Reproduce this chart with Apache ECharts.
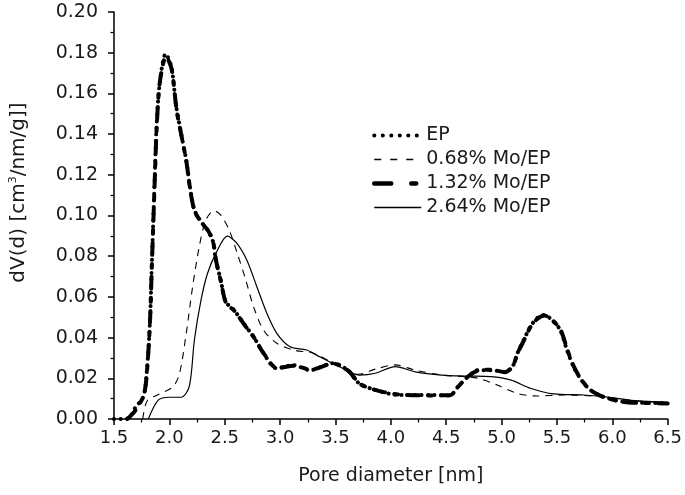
<!DOCTYPE html>
<html><head><meta charset="utf-8">
<script src="https://cdn.jsdelivr.net/npm/echarts@6/dist/echarts.min.js"></script>
<style>html,body{margin:0;padding:0;background:#fff}#c{width:685px;height:495px}</style>
</head><body><div id="c"></div>
<script>
var seriesNames = ['EP', '0.68% Mo/EP', '1.32% Mo/EP', '2.64% Mo/EP'];
var xTicks = [1.5, 2.0, 2.5, 3.0, 3.5, 4.0, 4.5, 5.0, 5.5, 6.0, 6.5];
var yTicks = [0.00, 0.02, 0.04, 0.06, 0.08, 0.10, 0.12, 0.14, 0.16, 0.18, 0.20];

var ep = [[1.5,0],[1.6,0.000],[1.646,0.001],[1.69,0.0054],[1.765,0.011],[1.795,0.0225],[1.824,0.047],[1.839,0.0716],[1.854,0.0963],[1.869,0.1207],[1.884,0.1436],[1.913,0.165],[1.967,0.1794],[2.018,0.173],[2.062,0.1535],[2.107,0.140],[2.152,0.1273],[2.19,0.1125],[2.226,0.1027],[2.286,0.097],[2.345,0.0929],[2.39,0.088],[2.42,0.078],[2.464,0.0683],[2.509,0.0576],[2.583,0.0536],[2.67,0.047],[2.76,0.0404],[2.85,0.0323],[2.97,0.0249],[3.12,0.0265],[3.27,0.024],[3.476,0.0274],[3.61,0.024],[3.714,0.0175],[3.86,0.0143],[4.07,0.0118],[4.37,0.0118],[4.53,0.0115],[4.607,0.0159],[4.696,0.0208],[4.786,0.024],[4.905,0.024],[5.024,0.0232],[5.098,0.0257],[5.143,0.0323],[5.2,0.0388],[5.26,0.0454],[5.32,0.0495],[5.38,0.0511],[5.455,0.0487],[5.53,0.0437],[5.59,0.034],[5.65,0.0257],[5.72,0.0192],[5.80,0.0143],[5.917,0.011],[6.095,0.0085],[6.27,0.008],[6.5,0.0077]];

var mo068 = [[1.76,0.0],[1.80,0.009],[1.9,0.012],[2.033,0.0159],[2.092,0.0225],[2.152,0.042],[2.21,0.065],[2.27,0.0847],[2.33,0.0978],[2.404,0.1024],[2.464,0.1002],[2.54,0.0929],[2.613,0.0814],[2.69,0.0683],[2.76,0.0552],[2.85,0.0437],[2.97,0.0372],[3.12,0.0339],[3.30,0.0323],[3.48,0.0274],[3.61,0.0233],[3.714,0.022],[3.86,0.0245],[4.04,0.0266],[4.22,0.024],[4.46,0.0216],[4.67,0.0208],[4.79,0.020],[4.96,0.0167],[5.14,0.0126],[5.32,0.0113],[5.56,0.0118],[5.9,0.011],[6.2,0.009],[6.5,0.008]];

var mo132 = [[1.62,0.000],[1.69,0.004],[1.77,0.012],[1.80,0.025],[1.826,0.049],[1.841,0.074],[1.856,0.098],[1.871,0.122],[1.887,0.145],[1.915,0.166],[1.97,0.178],[2.02,0.172],[2.065,0.152],[2.11,0.139],[2.155,0.126],[2.193,0.111],[2.23,0.102],[2.29,0.0965],[2.35,0.0925],[2.395,0.087],[2.425,0.077],[2.468,0.067],[2.512,0.057],[2.59,0.053],[2.675,0.0465],[2.765,0.040],[2.855,0.032],[2.975,0.025],[3.125,0.0262],[3.275,0.0243],[3.48,0.0272],[3.615,0.0238],[3.72,0.0173],[3.865,0.0142],[4.075,0.012],[4.375,0.0116],[4.535,0.0117],[4.61,0.016],[4.70,0.021],[4.79,0.0238],[4.91,0.0242],[5.03,0.023],[5.10,0.0259],[5.146,0.0325],[5.205,0.039],[5.265,0.0456],[5.325,0.0493],[5.385,0.0509],[5.46,0.0485],[5.535,0.0435],[5.595,0.0338],[5.655,0.0255],[5.725,0.019],[5.805,0.0141],[5.92,0.0108],[6.1,0.0084],[6.28,0.0079],[6.5,0.0076]];

var mo264 = [[1.81,0],[1.9,0.0093],[2.0,0.0107],[2.107,0.0107],[2.18,0.016],[2.226,0.0388],[2.286,0.0585],[2.345,0.0716],[2.42,0.0814],[2.524,0.0899],[2.61,0.0863],[2.70,0.078],[2.79,0.065],[2.88,0.052],[2.97,0.0421],[3.09,0.0355],[3.24,0.0339],[3.357,0.0306],[3.536,0.0257],[3.714,0.0216],[3.86,0.0225],[4.04,0.0257],[4.22,0.0232],[4.46,0.0216],[4.67,0.0211],[4.905,0.0208],[5.08,0.0192],[5.26,0.0151],[5.47,0.0123],[5.74,0.0118],[5.92,0.011],[6.2,0.009],[6.5,0.0082]];

var FONT = '"DejaVu Sans", "Liberation Sans", Arial, sans-serif';
var TXT = '#1a1a1a';
var styles = [
  {color: '#000', width: 4, type: [0.1, 6.5], cap: 'round'},
  {color: '#000', width: 1.1, type: [7, 6]},
  {color: '#000', width: 4, type: [12, 9, 4, 9], cap: 'round'},
  {color: '#000', width: 1.2, type: 'solid'}
];
var legendStyles = [
  {color: '#000', width: 4, type: [0.1, 8.4], cap: 'round'},
  {color: '#000', width: 1.5, type: [7, 9]},
  {color: '#000', width: 4.5, type: [17, 20, 5, 20], cap: 'round'},
  {color: '#000', width: 1.3, type: 'solid'}
];
var chart = echarts.init(document.getElementById('c'), null, {renderer: 'canvas'});
var axisCommon = {
  axisLine: {show: true, lineStyle: {color: '#000', width: 1.5}},
  axisTick: {show: true, inside: false, length: 6, lineStyle: {color: '#000', width: 1.5}},
  minorTick: {show: true, splitNumber: 2, length: 3.5, lineStyle: {color: '#000', width: 1.2}},
  splitLine: {show: false},
  minorSplitLine: {show: false}
};
chart.setOption({
  animation: false,
  backgroundColor: '#fff',
  color: ['#000', '#000', '#000', '#000'],
  textStyle: {fontFamily: FONT, color: TXT},
  grid: {left: 112, right: 13, top: 12, bottom: 76, containLabel: false},
  legend: {
    orient: 'vertical', left: 367, top: 121,
    itemWidth: 47, itemHeight: 16, itemGap: 5,
    data: seriesNames.map(function (n, i) {
      return {name: n, lineStyle: legendStyles[i], itemStyle: {opacity: 0}};
    }),
    itemStyle: {opacity: 0},
    textStyle: {fontFamily: FONT, fontSize: 19, color: TXT}
  },
  xAxis: Object.assign({
    type: 'value', min: xTicks[0], max: xTicks[xTicks.length - 1], interval: 0.5,
    name: 'Pore diameter [nm]', nameLocation: 'middle', nameGap: 48,
    nameTextStyle: {fontFamily: FONT, fontSize: 19, color: TXT},
    axisLabel: {fontFamily: FONT, fontSize: 18, color: TXT, margin: 10,
      formatter: function (v) { return v.toFixed(1); }}
  }, axisCommon),
  yAxis: Object.assign({
    type: 'value', min: yTicks[0], max: yTicks[yTicks.length - 1], interval: 0.02,
    name: 'dV(d) [cm{sup|3}/nm/g]]', nameLocation: 'middle', nameGap: 85,
    nameTextStyle: {fontFamily: FONT, fontSize: 20, color: TXT, padding: [0, 0, 0, 46],
      rich: {sup: {fontSize: 11, verticalAlign: 'top', padding: [0, 0, 10, 0], fontFamily: FONT, color: TXT}}},
    axisLabel: {fontFamily: FONT, fontSize: 19, color: TXT, margin: 16,
      formatter: function (v) { return v.toFixed(2); }}
  }, axisCommon),
  series: [
    {name: seriesNames[0], type: 'line', data: ep, smooth: 0.3, symbol: 'none',
     itemStyle: {color: '#000'}, lineStyle: styles[0], z: 3},
    {name: seriesNames[1], type: 'line', data: mo068, smooth: 0.3, symbol: 'none',
     itemStyle: {color: '#000'}, lineStyle: styles[1], z: 2},
    {name: seriesNames[2], type: 'line', data: mo132, smooth: 0.3, symbol: 'none',
     itemStyle: {color: '#000'}, lineStyle: styles[2], z: 4},
    {name: seriesNames[3], type: 'line', data: mo264, smooth: 0.3, symbol: 'none',
     itemStyle: {color: '#000'}, lineStyle: styles[3], z: 2}
  ]
});
</script>
</body></html>
